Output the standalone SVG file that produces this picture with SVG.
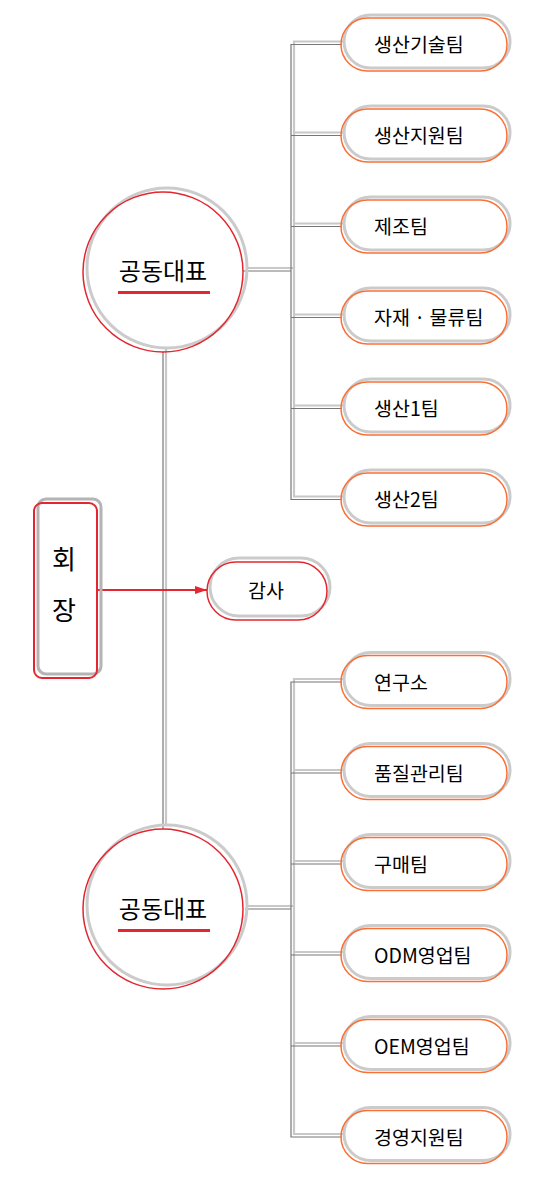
<svg xmlns="http://www.w3.org/2000/svg" width="538" height="1184" viewBox="0 0 538 1184">
<defs>
<style>
.bg{fill:#ffffff}
.sh{fill:none;stroke:#cbcbcb;stroke-width:3}
.shd{fill:none;stroke:#b4b4b4;stroke-width:3}
.or{fill:none;stroke:#fb6f35;stroke-width:1.5}
.rd{fill:none;stroke:#e3262f;stroke-width:1.5}
.ln{fill:none;stroke:#777777;stroke-width:1.2}
.lnl{fill:none;stroke:#c8c8c8;stroke-width:2.2}
.t{font-family:"Noto Sans CJK KR","Noto Sans",sans-serif;font-size:19.5px;font-weight:400;fill:#000000}
.tb{font-family:"Noto Sans CJK KR","Noto Sans",sans-serif;font-size:24px;font-weight:400;fill:#000000;text-anchor:middle}
.tc{font-family:"Noto Sans CJK KR","Noto Sans",sans-serif;font-size:26px;font-weight:400;fill:#000000;text-anchor:middle}
.ul{fill:#e3262f}
</style>
<marker id="arr" markerWidth="12" markerHeight="8" refX="12" refY="4" orient="auto" markerUnits="userSpaceOnUse">
<path d="M0,0 L12,4 L0,8 Z" fill="#e3262f"/>
</marker>
</defs>
<rect class="bg" x="0" y="0" width="538" height="1184"/>

<g id="connectors">
<g transform="translate(3,-3)">
<path class="lnl" d="M163,352 V829"/>
<path class="lnl" d="M243,271 H291"/>
<path class="lnl" d="M342,44.5 H291 V499.5 H342 M291,135.5 H342 M291,226.5 H342 M291,317.5 H342 M291,408.5 H342"/>
<path class="lnl" d="M245,909 H291"/>
<path class="lnl" d="M342,682 H291 V1137 H342 M291,773 H342 M291,864 H342 M291,955 H342 M291,1046 H342"/>
</g>
<path class="ln" d="M163,352 V829"/>
<path class="ln" d="M243,271 H291"/>
<path class="ln" d="M342,44.5 H291 V499.5 H342 M291,135.5 H342 M291,226.5 H342 M291,317.5 H342 M291,408.5 H342"/>
<path class="ln" d="M245,909 H291"/>
<path class="ln" d="M342,682 H291 V1137 H342 M291,773 H342 M291,864 H342 M291,955 H342 M291,1046 H342"/>
<path d="M97,590 H207" fill="none" stroke="#e3262f" stroke-width="1.8" marker-end="url(#arr)"/>
</g>

<g id="ceo1">
<circle class="sh" cx="167" cy="268" r="80"/>
<circle class="rd" cx="163" cy="272" r="80"/>
<text class="tb" x="163" y="280">공동대표</text>
<rect class="ul" x="118" y="291" width="92" height="3"/>
</g>
<g id="ceo2">
<circle class="sh" cx="167" cy="905" r="80"/>
<circle class="rd" cx="163" cy="909" r="80"/>
<text class="tb" x="163" y="918">공동대표</text>
<rect class="ul" x="118" y="929" width="92" height="3"/>
</g>

<g id="chairman">
<rect class="shd" x="38" y="499" width="63" height="175" rx="8"/>
<rect x="34" y="503" width="63" height="175" rx="8" fill="none" stroke="#e3262f" stroke-width="2"/>
<text class="tc" x="64" y="569">회</text>
<text class="tc" x="64" y="620">장</text>
</g>

<g id="audit">
<rect class="sh" x="210" y="558" width="120" height="58" rx="29"/>
<rect class="rd" x="207" y="562" width="120" height="58" rx="29"/>
<text class="t" x="266" y="598" text-anchor="middle">감사</text>
</g>

<g id="team1">
<rect class="sh" x="344" y="15" width="166" height="53" rx="26.5"/>
<rect class="or" x="341" y="18" width="166" height="53" rx="26.5"/>
<text class="t" x="374" y="52">생산기술팀</text>
</g>
<g id="team2">
<rect class="sh" x="344" y="106" width="166" height="53" rx="26.5"/>
<rect class="or" x="341" y="109" width="166" height="53" rx="26.5"/>
<text class="t" x="374" y="143">생산지원팀</text>
</g>
<g id="team3">
<rect class="sh" x="344" y="197" width="166" height="53" rx="26.5"/>
<rect class="or" x="341" y="200" width="166" height="53" rx="26.5"/>
<text class="t" x="374" y="234">제조팀</text>
</g>
<g id="team4">
<rect class="sh" x="344" y="288" width="166" height="53" rx="26.5"/>
<rect class="or" x="341" y="291" width="166" height="53" rx="26.5"/>
<text class="t" x="374" y="325">자재 · 물류팀</text>
</g>
<g id="team5">
<rect class="sh" x="344" y="379" width="166" height="53" rx="26.5"/>
<rect class="or" x="341" y="382" width="166" height="53" rx="26.5"/>
<text class="t" x="374" y="416">생산1팀</text>
</g>
<g id="team6">
<rect class="sh" x="344" y="470" width="166" height="53" rx="26.5"/>
<rect class="or" x="341" y="473" width="166" height="53" rx="26.5"/>
<text class="t" x="374" y="507">생산2팀</text>
</g>

<g id="team7">
<rect class="sh" x="344" y="652.5" width="166" height="53" rx="26.5"/>
<rect class="or" x="341" y="655.5" width="166" height="53" rx="26.5"/>
<text class="t" x="374" y="689.5">연구소</text>
</g>
<g id="team8">
<rect class="sh" x="344" y="743.5" width="166" height="53" rx="26.5"/>
<rect class="or" x="341" y="746.5" width="166" height="53" rx="26.5"/>
<text class="t" x="374" y="780.5">품질관리팀</text>
</g>
<g id="team9">
<rect class="sh" x="344" y="834.5" width="166" height="53" rx="26.5"/>
<rect class="or" x="341" y="837.5" width="166" height="53" rx="26.5"/>
<text class="t" x="374" y="871.5">구매팀</text>
</g>
<g id="team10">
<rect class="sh" x="344" y="925.5" width="166" height="53" rx="26.5"/>
<rect class="or" x="341" y="928.5" width="166" height="53" rx="26.5"/>
<text class="t" x="374" y="962.5">ODM영업팀</text>
</g>
<g id="team11">
<rect class="sh" x="344" y="1016.5" width="166" height="53" rx="26.5"/>
<rect class="or" x="341" y="1019.5" width="166" height="53" rx="26.5"/>
<text class="t" x="374" y="1053.5">OEM영업팀</text>
</g>
<g id="team12">
<rect class="sh" x="344" y="1107.5" width="166" height="53" rx="26.5"/>
<rect class="or" x="341" y="1110.5" width="166" height="53" rx="26.5"/>
<text class="t" x="374" y="1144.5">경영지원팀</text>
</g>
</svg>
